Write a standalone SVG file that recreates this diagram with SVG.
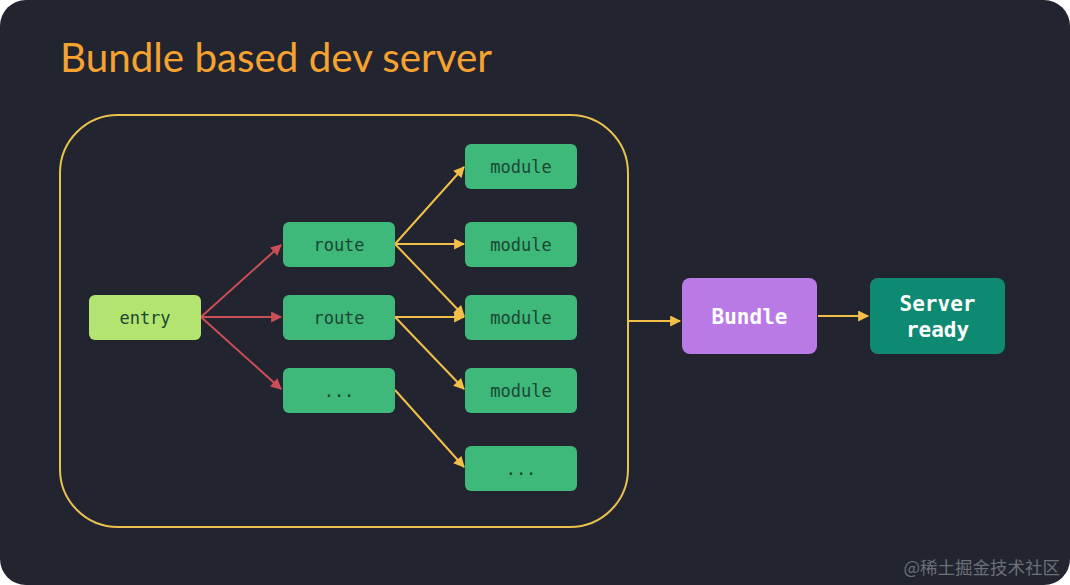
<svg xmlns="http://www.w3.org/2000/svg" width="1070" height="585" viewBox="0 0 1070 585">
<defs>
<marker id="ar" viewBox="0 0 10 10" refX="9" refY="5" markerWidth="6" markerHeight="5.5" orient="auto" markerUnits="strokeWidth"><path d="M0,0 L10,5 L0,10 z" fill="#cc4f57"/></marker>
<marker id="ay" viewBox="0 0 10 10" refX="9" refY="5" markerWidth="6" markerHeight="5.5" orient="auto" markerUnits="strokeWidth"><path d="M0,0 L10,5 L0,10 z" fill="#f2c04a"/></marker>
</defs>
<style>
.t{font-family:"DejaVu Sans Mono","Liberation Mono",monospace;font-size:17px;fill:#1a4632;text-anchor:middle;dominant-baseline:central}
.w{font-family:"DejaVu Sans Mono","Liberation Mono",monospace;font-size:21px;font-weight:bold;fill:#ffffff;text-anchor:middle}
.r{stroke:#cc4f57;stroke-width:2;fill:none;marker-end:url(#ar)}
.y{stroke:#f2c04a;stroke-width:2;fill:none;marker-end:url(#ay)}
</style>
<rect width="1070" height="585" fill="#ffffff"/>
<rect width="1070" height="585" rx="26" fill="#22252f"/>
<text x="60" y="72" font-family="Lato,'Noto Sans',sans-serif" font-size="40" fill="#f5a231" textLength="432" lengthAdjust="spacingAndGlyphs">Bundle based dev server</text>
<rect id="container" x="60" y="115" width="568" height="412" rx="58" fill="none" stroke="#e9c14f" stroke-width="2"/>
<g id="connectors">
<line class="r" x1="201" y1="317" x2="281" y2="245"/>
<line class="r" x1="201" y1="317" x2="281" y2="317"/>
<line class="r" x1="201" y1="317" x2="281" y2="389"/>
<line class="y" x1="395" y1="244" x2="464" y2="167"/>
<line class="y" x1="395" y1="244" x2="464" y2="244"/>
<line class="y" x1="395" y1="244" x2="464" y2="316"/>
<line class="y" x1="395" y1="317" x2="464" y2="317"/>
<line class="y" x1="395" y1="317" x2="464" y2="389"/>
<line class="y" x1="395" y1="390" x2="464" y2="467"/>
<line class="y" x1="629" y1="321" x2="680" y2="321"/>
<line class="y" x1="818" y1="316" x2="868" y2="316"/>
</g>
<g id="entry"><rect x="89" y="295" width="112" height="45" rx="6" fill="#b3e46f"/><text class="t" x="145" y="318">entry</text></g>
<g id="route1"><rect x="283" y="222" width="112" height="45" rx="6" fill="#3fb97a"/><text class="t" x="339" y="245">route</text></g>
<g id="route2"><rect x="283" y="295" width="112" height="45" rx="6" fill="#3fb97a"/><text class="t" x="339" y="318">route</text></g>
<g id="route3"><rect x="283" y="368" width="112" height="45" rx="6" fill="#3fb97a"/><text class="t" x="339" y="391">...</text></g>
<g id="module1"><rect x="465" y="144" width="112" height="45" rx="6" fill="#3fb97a"/><text class="t" x="521" y="167">module</text></g>
<g id="module2"><rect x="465" y="222" width="112" height="45" rx="6" fill="#3fb97a"/><text class="t" x="521" y="245">module</text></g>
<g id="module3"><rect x="465" y="295" width="112" height="45" rx="6" fill="#3fb97a"/><text class="t" x="521" y="318">module</text></g>
<g id="module4"><rect x="465" y="368" width="112" height="45" rx="6" fill="#3fb97a"/><text class="t" x="521" y="391">module</text></g>
<g id="module5"><rect x="465" y="446" width="112" height="45" rx="6" fill="#3fb97a"/><text class="t" x="521" y="469">...</text></g>
<g id="bundle"><rect x="682" y="278" width="135" height="76" rx="8" fill="#b97ae6"/><text class="w" x="749.5" y="324">Bundle</text></g>
<g id="server"><rect x="870" y="278" width="135" height="76" rx="8" fill="#0e8a73"/><text class="w" x="937.5" y="311">Server</text><text class="w" x="937.5" y="337">ready</text></g>
<text x="1060" y="574" text-anchor="end" font-family="'Noto Sans CJK SC',sans-serif" font-size="17.5" fill="#6b6f78">@稀土掘金技术社区</text>
</svg>
